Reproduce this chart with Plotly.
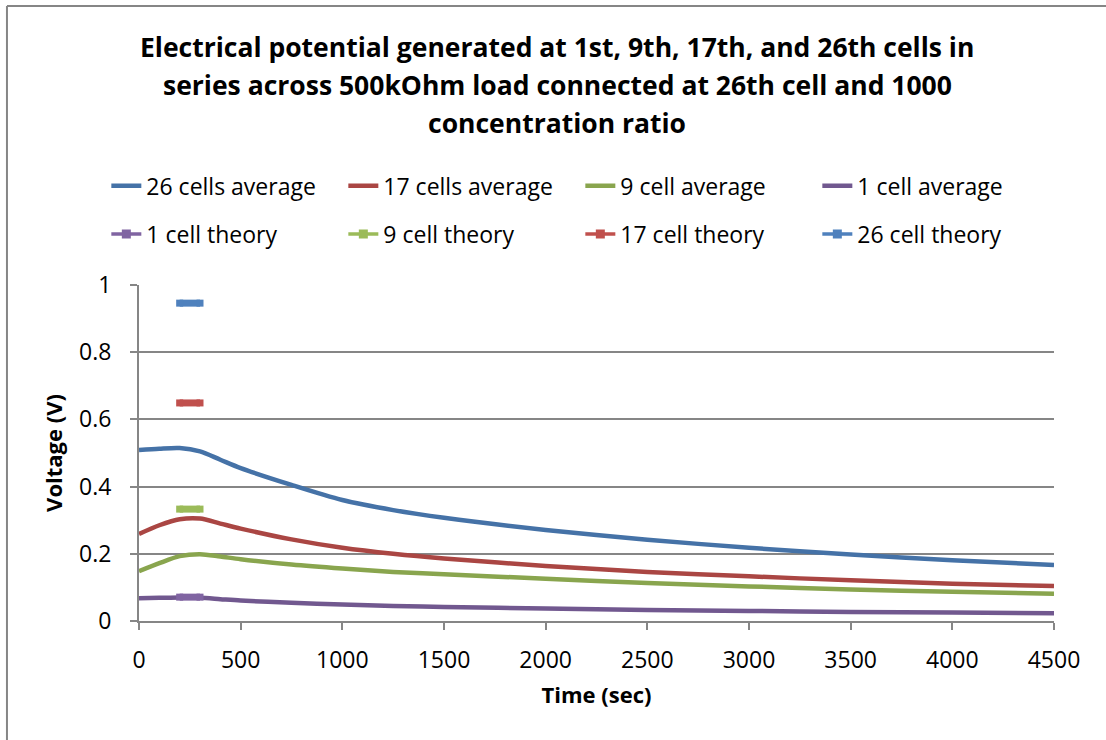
import plotly.graph_objects as go

# Time samples (seconds)
time_s = [0, 100, 200, 300, 400, 500, 750, 1000, 1250, 1500, 2000, 2500, 3000, 3500, 4000, 4500]

# Measured average voltages (V)
avg_26 = [0.509, 0.513, 0.515, 0.505, 0.480, 0.455, 0.405, 0.360, 0.330, 0.307, 0.271, 0.242, 0.218, 0.198, 0.181, 0.167]
avg_17 = [0.259, 0.285, 0.303, 0.305, 0.290, 0.275, 0.243, 0.218, 0.200, 0.186, 0.164, 0.146, 0.133, 0.121, 0.111, 0.104]
avg_9 = [0.148, 0.172, 0.193, 0.199, 0.192, 0.184, 0.168, 0.156, 0.146, 0.139, 0.126, 0.113, 0.103, 0.094, 0.087, 0.081]
avg_1 = [0.068, 0.069, 0.070, 0.069, 0.065, 0.061, 0.054, 0.049, 0.045, 0.042, 0.037, 0.033, 0.030, 0.027, 0.025, 0.023]

# Theoretical voltages (V), shown as short segments
theory_time = [200, 300]
theory_1 = [0.071, 0.071]
theory_9 = [0.333, 0.333]
theory_17 = [0.649, 0.649]
theory_26 = [0.946, 0.946]

FONT = "Open Sans"
GRID = "#868686"

fig = go.Figure()

avg_series = [
    ("26 cells average", avg_26, "#4572A7"),
    ("17 cells average", avg_17, "#AA4643"),
    ("9 cell average", avg_9, "#89A54E"),
    ("1 cell average", avg_1, "#71588F"),
]
for name, vals, color in avg_series:
    fig.add_trace(go.Scatter(
        x=time_s, y=vals, name=name, mode="lines",
        line=dict(color=color, width=4.5, shape="spline", smoothing=0.8),
        legend="legend",
    ))

theory_series = [
    ("1 cell theory", theory_1, "#8064A2"),
    ("9 cell theory", theory_9, "#9BBB59"),
    ("17 cell theory", theory_17, "#C0504D"),
    ("26 cell theory", theory_26, "#4F81BD"),
]
for name, vals, color in theory_series:
    # thick short bar on the chart
    fig.add_trace(go.Scatter(
        x=theory_time, y=vals, name=name, mode="lines+markers",
        line=dict(color=color, width=7),
        marker=dict(symbol="square", size=7, color=color),
        showlegend=False,
    ))
    # legend key: thin line with a square marker
    fig.add_trace(go.Scatter(
        x=[None], y=[None], name=name, mode="lines+markers",
        line=dict(color=color, width=3.5),
        marker=dict(symbol="square", size=9, color=color),
        legend="legend2",
    ))

title_lines = [
    "Electrical potential generated at 1st, 9th, 17th, and 26th cells in",
    "series across 500kOhm load connected at 26th cell and 1000",
    "concentration ratio",
]
title_y = [1.708, 1.595, 1.482]
annotations = [
    dict(text=f"<b>{t}</b>", xref="paper", yref="paper", x=0.457, y=y,
         xanchor="center", yanchor="middle", showarrow=False,
         font=dict(family=FONT, size=26.5, color="#000000"))
    for t, y in zip(title_lines, title_y)
]

legend_common = dict(
    orientation="h", xanchor="left", yanchor="middle",
    entrywidth=192, entrywidthmode="pixels",
    font=dict(family=FONT, size=23, color="#000000"),
    bgcolor="rgba(0,0,0,0)", itemclick=False, itemdoubleclick=False,
)

fig.update_layout(
    width=1106, height=740,
    margin=dict(l=139, r=52, t=285, b=119),
    paper_bgcolor="white", plot_bgcolor="white",
    font=dict(family=FONT, size=23, color="#000000"),
    annotations=annotations,
    legend=dict(x=-0.0357, y=1.295, **legend_common),
    legend2=dict(x=-0.0357, y=1.152, **legend_common),
    shapes=[
        dict(type="line", xref="paper", yref="paper", x0=-0.1443, x1=-0.1443,
             y0=-0.40, y1=1.830, line=dict(color=GRID, width=2)),
        dict(type="line", xref="paper", yref="paper", x0=-0.1443, x1=1.10,
             y0=1.830, y1=1.830, line=dict(color=GRID, width=2)),
    ],
)

fig.update_xaxes(
    range=[0, 4500], tickvals=[0, 500, 1000, 1500, 2000, 2500, 3000, 3500, 4000, 4500],
    showgrid=False, showline=True, linecolor=GRID, linewidth=2,
    ticks="outside", ticklen=7, tickcolor=GRID, tickwidth=2,
    ticklabelstandoff=10, tickfont=dict(family=FONT, size=23),
    title=dict(text="<b>Time (sec)</b>", font=dict(family=FONT, size=22), standoff=14),
    zeroline=False,
)
fig.update_yaxes(
    range=[0, 1], tickvals=[0, 0.2, 0.4, 0.6, 0.8, 1], ticktext=["0", "0.2", "0.4", "0.6", "0.8", "1"],
    showgrid=True, gridcolor=GRID, gridwidth=2,
    showline=True, linecolor=GRID, linewidth=2,
    ticks="outside", ticklen=7, tickcolor=GRID, tickwidth=2,
    ticklabelstandoff=14, tickfont=dict(family=FONT, size=23),
    title=dict(text="<b>Voltage (V)</b>", font=dict(family=FONT, size=22), standoff=10),
    zeroline=False,
)

fig.write_html("out.html")
